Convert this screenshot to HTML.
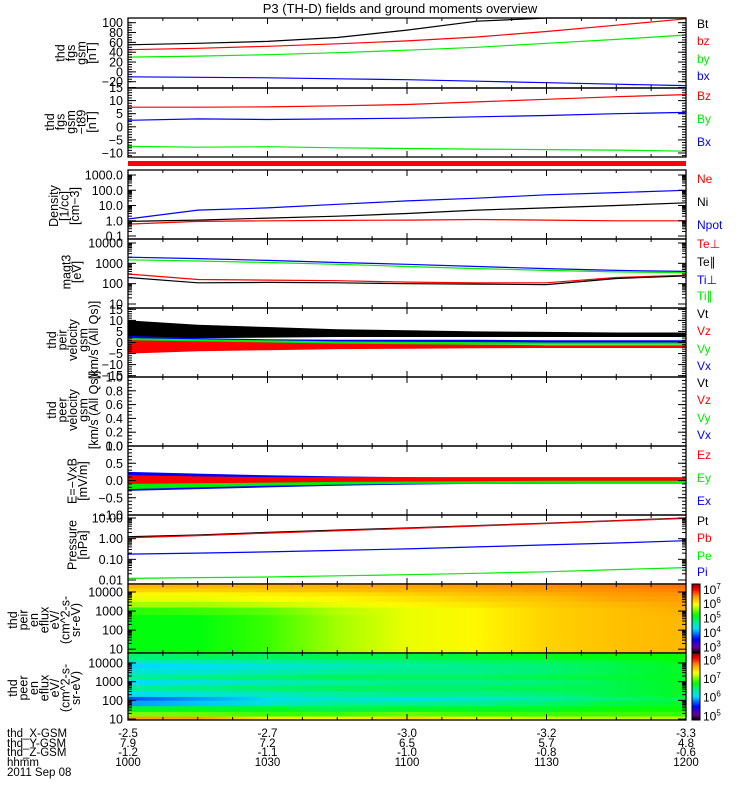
<!DOCTYPE html>
<html><head><meta charset="utf-8"><style>
html,body{margin:0;padding:0;background:#fff}
svg{display:block;font-family:"Liberation Sans",sans-serif}
</style></head><body>
<svg id="chart" width="750" height="800" viewBox="0 0 750 800" xmlns="http://www.w3.org/2000/svg">
<text x="400" y="13" text-anchor="middle" font-size="13">P3 (TH-D) fields and ground moments overview</text>
<g id="g"></g>
<g font-size="11.5">
<text x="7" y="737">thd_X-GSM</text><text x="7" y="747">thd_Y-GSM</text><text x="7" y="756">thd_Z-GSM</text><text x="7" y="766">hhmm</text><text x="7" y="776">2011 Sep 08</text>
</g>
</svg>
<script>
// time nodes: 10:00 to 12:00 every 15 min
const times = [0,1,2,3,4,5,6,7,8];
const hhmm = ['1000','1030','1100','1130','1200'];
const xGsm = ['-2.5','-2.7','-3.0','-3.2','-3.3'];
const yGsm = ['7.9','7.2','6.5','5.7','4.8'];
const zGsm = ['-1.2','-1.1','-1.0','-0.8','-0.6'];
// panel 1 fgs gsm
const bt = [55,58,62,70,85,103,120,135,150];
const bzG = [45,48,52,57,63,71,82,95,108];
const byG = [30,32,35,39,44,50,58,66,75];
const bxG = [-10,-11,-12,-14,-16,-19,-22,-25,-28];
// panel 2 fgs - t89
const bz2 = [7.5,7.5,7.6,8,8.5,9.5,10.5,11.5,12.3];
const by2 = [2.5,3,2.8,3,3.3,3.8,4.3,5,5.5];
const bx2 = [-7.5,-7.8,-7.6,-8,-8.3,-8.5,-8.7,-8.9,-9.3];
// panel 3 density
const ne = [0.6,0.9,1.0,1.05,1.1,1.2,1.1,1.0,1.0];
const ni = [0.9,1.1,1.5,2,3,5,7,10,15];
const npot = [1.3,5,7,12,20,30,50,70,100];
// panel 4 temperature
const tiPerp = [2000,1700,1400,1100,900,700,550,450,400];
const tiPar = [1500,1300,1100,900,700,550,450,380,350];
const tePerp = [300,160,150,140,120,110,110,200,260];
const tePar = [200,110,115,110,100,95,90,180,240];
// panel 5 ion velocity envelopes
const vtHi = [10,8,7,6,5.5,5,4.8,4.5,4.5];
const vtLo = [2,2,2.2,2.5,2.5,2.5,2.5,2.5,2.5];
const vxHi = [3,2,1.5,1.2,1.2,1.2,1,1,1];
const vxLo = [-3,-2,-1.5,-1,-0.5,-0.3,-0.2,0,0];
const vyHi = [2,1.5,1,0.5,0.3,0.2,0,0,0];
const vyLo = [-4,-3,-2,-1.5,-1.2,-1,-1,-1,-1];
const vzHi = [1,0.5,0,-0.5,-0.8,-1,-1.2,-1.2,-1.2];
const vzLo = [-5,-4,-3.5,-3,-2.8,-2.6,-2.5,-2.5,-2.5];
// panel 7 E = -VxB envelopes
const exHi = [0.25,0.2,0.15,0.12,0.1,0.08,0.08,0.06,0.06];
const exLo = [-0.3,-0.25,-0.2,-0.15,-0.12,-0.1,-0.1,-0.08,-0.08];
const eyHi = [0.15,0.1,0.08,0.05,0.03,0.02,0.02,0.02,0.02];
const eyLo = [-0.25,-0.2,-0.15,-0.12,-0.1,-0.1,-0.1,-0.1,-0.1];
const ezHi = [0.15,0.12,0.1,0.1,0.1,0.1,0.1,0.1,0.1];
const ezLo = [-0.1,-0.08,-0.06,-0.04,-0.03,-0.02,-0.01,-0.01,-0.01];
// panel 8 pressure
const pt = [1.25,1.5,2,2.6,3.3,4.3,5.6,7.5,10];
const pb = [1.1,1.4,1.85,2.4,3.1,4.1,5.4,7.2,9.6];
const pi = [0.18,0.2,0.23,0.27,0.32,0.4,0.5,0.62,0.8];
const pe = [0.012,0.013,0.014,0.016,0.018,0.021,0.025,0.032,0.04];
// spectrograms: log10 energy bin edges and log10 eflux rows (bottom to top)
const ionEdges = [0.8,1.3,1.8,2.3,2.8,3.2,3.5,3.8,4.0,4.2,4.42];
const ionFlux = [
[5.2,5.2,5.4,5.7,5.9,6.0,6.2,6.3,6.35],
[5.2,5.2,5.4,5.7,5.9,6.0,6.2,6.3,6.35],
[5.2,5.2,5.4,5.7,5.9,6.0,6.2,6.3,6.35],
[5.2,5.2,5.4,5.7,5.9,6.0,6.2,6.3,6.35],
[5.35,5.4,5.5,5.75,5.9,6.0,6.2,6.3,6.4],
[5.7,5.7,5.8,5.9,6.0,6.1,6.25,6.35,6.45],
[5.9,5.9,5.95,6.0,6.1,6.2,6.3,6.45,6.5],
[6.0,6.0,6.05,6.1,6.2,6.3,6.4,6.5,6.55],
[6.2,6.2,6.25,6.3,6.35,6.4,6.5,6.55,6.6],
[6.35,6.35,6.35,6.4,6.45,6.5,6.55,6.6,6.65]];
const eleEdges = [0.95,1.15,1.4,1.7,2.0,2.2,2.5,2.8,3.1,3.4,3.7,4.0,4.2,4.53];
const eleFlux = [
[7.7,7.7,7.4,7.3,7.5,7.3,7.2,7.2,7.2],
[7.05,7.0,6.9,6.9,7.0,6.9,6.9,6.9,6.9],
[6.7,6.7,6.7,6.6,6.7,6.7,6.7,6.8,6.8],
[5.9,6.0,6.2,6.4,6.4,6.45,6.5,6.6,6.7],
[5.7,5.9,6.1,6.2,6.1,6.2,6.35,6.5,6.6],
[6.1,6.2,6.3,6.4,6.45,6.45,6.5,6.6,6.7],
[6.4,6.45,6.5,6.55,6.55,6.55,6.6,6.6,6.7],
[6.1,6.2,6.3,6.4,6.45,6.45,6.5,6.6,6.7],
[6.4,6.45,6.5,6.55,6.55,6.55,6.6,6.65,6.7],
[6.2,6.2,6.3,6.4,6.45,6.45,6.5,6.6,6.7],
[6.05,6.1,6.2,6.3,6.4,6.45,6.5,6.6,6.7],
[6.3,6.35,6.4,6.45,6.5,6.55,6.6,6.65,6.75],
[6.5,6.55,6.55,6.6,6.6,6.65,6.7,6.75,6.8]];

const NS='http://www.w3.org/2000/svg';
const G=document.getElementById('g');
const X0=128,X1=686;
function xs(t){return X0+t/8*(X1-X0);}
function el(tag,attrs,parent){const e=document.createElementNS(NS,tag);for(const k in attrs)e.setAttribute(k,attrs[k]);(parent||G).appendChild(e);return e;}
function linS(top,bot,vTop,vBot){return v=>top+(vTop-v)/(vTop-vBot)*(bot-top);}
function logS(top,bot,lTop,lBot){return v=>top+(lTop-Math.log10(v))/(lTop-lBot)*(bot-top);}
function clip(y,top,bot){return Math.max(top,Math.min(bot,y));}

function line(arr,ys,color,top,bot,name){
  const p=arr.map((v,i)=>xs(times[i]).toFixed(1)+','+clip(ys(v),top,bot).toFixed(1)).join(' ');
  const e=el('polyline',{points:p,fill:'none',stroke:color,'stroke-width':1.2});
  
  
}
function band(hi,lo,ys,color,name){
  const up=hi.map((v,i)=>xs(times[i]).toFixed(1)+','+ys(v).toFixed(1));
  const dn=lo.map((v,i)=>xs(times[i]).toFixed(1)+','+ys(v).toFixed(1)).reverse();
  const e=el('polygon',{points:up.concat(dn).join(' '),fill:color});
  
  
}
function frame(top,bot,name){
  const e=el('rect',{x:X0,y:top,width:X1-X0,height:bot-top,fill:'none',stroke:'#000','stroke-width':1.3});
  
  
  for(let k=0;k<=16;k++){const x=X0+k*(X1-X0)/16;const L=k%4==0?6:3;
    el('line',{x1:x,x2:x,y1:top,y2:top+L,stroke:'#000'});el('line',{x1:x,x2:x,y1:bot,y2:bot-L,stroke:'#000'});}
}
function yTicks(list,ys,minor){
  list.forEach(([v,lab])=>{const y=ys(v);
    el('line',{x1:X0,x2:X0+8,y1:y,y2:y,stroke:'#000'});el('line',{x1:X1,x2:X1-8,y1:y,y2:y,stroke:'#000'});
    const t=el('text',{x:123,y:y+4.5,'text-anchor':'end','font-size':12.5});t.textContent=lab;
    
    
  });
  (minor||[]).forEach(v=>{const y=ys(v);el('line',{x1:X0,x2:X0+4,y1:y,y2:y,stroke:'#000'});el('line',{x1:X1,x2:X1-4,y1:y,y2:y,stroke:'#000'});});
}
function logMinor(a,b){const r=[];for(let d=a;d<b;d++)for(let m=2;m<10;m++)r.push(m*Math.pow(10,d));return r;}
function linMinor(a,b,s){const r=[];for(let v=a;v<=b+1e-9;v+=s)r.push(v);return r;}
function ytitle(lines,cy,name,xEnd){
  const g=el('g',{});
  const n=lines.length;const xe=xEnd||96;
  lines.forEach((s,i)=>{const x=xe-(n-1-i)*10.5;const t=el('text',{x:x,y:cy,'text-anchor':'middle','font-size':12.5,transform:`rotate(-90 ${x} ${cy})`},g);t.textContent=s;});
}
function legend(items,x){
  items.forEach(([s,c,y])=>{const t=el('text',{x:x||697,y:y,'font-size':12,fill:c});t.textContent=s;
    
    });
}
const BK='#000',RD='#ff0000',GR='#00ee00',BL='#0000ff';

// Panel 1
{const top=18,bot=88,ys=linS(22.7,81.7,100,-20);
 line(bxG,ys,BL,top,bot,'bx-gsm-line');line(byG,ys,GR,top,bot,'by-gsm-line');line(bzG,ys,RD,top,bot,'bz-gsm-line');line(bt,ys,BK,top,bot,'bt-line');
 frame(top,bot,'fgs-gsm-panel');
 yTicks([[100,'100'],[80,'80'],[60,'60'],[40,'40'],[20,'20'],[0,'0'],[-20,'−20']],ys,linMinor(-20,100,5));
 ytitle(['thd','fgs','gsm','[nT]'],53,'fgs-gsm-axis-title');
 legend([['Bt',BK,28],['bz',RD,45],['by',GR,63],['bx',BL,80]]);}
// Panel 2
{const top=88,bot=157,ys=linS(87.5,153,15,-10);
 line(bx2,ys,GR,top,bot,'bx-t89-line');line(by2,ys,BL,top,bot,'by-t89-line');line(bz2,ys,RD,top,bot,'bz-t89-line');
 frame(top,bot,'fgs-t89-panel');
 yTicks([[15,'15'],[10,'10'],[5,'5'],[0,'0'],[-5,'−5'],[-10,'−10']],ys,linMinor(-11,15,1));
 ytitle(['thd','fgs','gsm','−t89','[nT]'],122,'fgs-t89-axis-title');
 legend([['Bz',RD,100],['By',GR,123],['Bx',BL,146]]);}
// red flag bar
{const e=el('rect',{x:X0,y:161,width:X1-X0,height:5,fill:'#ff0000'});}
// Panel 3
{const top=170,bot=239,ys=logS(175,236,3,-1);
 line(npot,ys,BL,top,bot,'npot-line');line(ni,ys,BK,top,bot,'ni-line');line(ne,ys,RD,top,bot,'ne-line');
 frame(top,bot,'density-panel');
 yTicks([[1000,'1000.0'],[100,'100.0'],[10,'10.0'],[1,'1.0'],[0.1,'0.1']],ys,logMinor(-1,3));
 ytitle(['Density','[1/cc]','[cm−3]'],206,'density-axis-title',79);
 legend([['Ne',RD,183],['Ni',BK,206],['Npot',BL,229]]);}
// Panel 4
{const top=239,bot=308,ys=logS(243,304,4,1);
 line(tiPar,ys,GR,top,bot,'ti-par-line');line(tiPerp,ys,BL,top,bot,'ti-perp-line');line(tePerp,ys,RD,top,bot,'te-perp-line');line(tePar,ys,BK,top,bot,'te-par-line');
 frame(top,bot,'temperature-panel');
 yTicks([[10000,'10000'],[1000,'1000'],[100,'100'],[10,'10']],ys,logMinor(1,4));
 ytitle(['magt3','[eV]'],272,'temperature-axis-title',81);
 legend([['Te⊥',RD,248],['Te∥',BK,266],['Ti⊥',BL,284],['Ti∥',GR,300]]);}
// Panel 5
{const top=308,bot=377,ys=linS(308,377,15.6,-15.6);
 band(vtHi,vtLo,ys,BK,'vt-ion-band');band(vxHi,vxLo,ys,BL,'vx-ion-band');band(vyHi,vyLo,ys,GR,'vy-ion-band');band(vzHi,vzLo,ys,RD,'vz-ion-band');
 frame(top,bot,'ion-velocity-panel');
 yTicks([[15,'15'],[10,'10'],[5,'5'],[0,'0'],[-5,'−5'],[-10,'−10'],[-15,'−15']],ys,linMinor(-15,15,1));
 ytitle(['thd','peir','velocity','gsm','[km/s (All Qs)]'],340,'ion-velocity-axis-title',98);
 legend([['Vt',BK,318],['Vz',RD,335],['Vy',GR,353],['Vx',BL,370]]);}
// Panel 6
{const top=377,bot=446,ys=linS(377,446,1,0);
 frame(top,bot,'electron-velocity-panel');
 yTicks([[1,'1.0'],[0.8,'0.8'],[0.6,'0.6'],[0.4,'0.4'],[0.2,'0.2'],[0,'0.0']],ys,linMinor(0,1,0.05));
 ytitle(['thd','peer','velocity','gsm','[km/s (All Qs)]'],410,'electron-velocity-axis-title',98);
 legend([['Vt',BK,387],['Vz',RD,404],['Vy',GR,422],['Vx',BL,439]]);}
// Panel 7
{const top=446,bot=515,ys=linS(446,515,1,-1);
 band(exHi,exLo,ys,BL,'ex-band');band(eyHi,eyLo,ys,GR,'ey-band');band(ezHi,ezLo,ys,RD,'ez-band');
 frame(top,bot,'efield-panel');
 yTicks([[1,'1.0'],[0.5,'0.5'],[0,'0.0'],[-0.5,'−0.5'],[-1,'−1.0']],ys,linMinor(-1,1,0.1));
 ytitle(['E=−VxB','[mV/m]'],481,'efield-axis-title',87);
 legend([['Ez',RD,459],['Ey',GR,482],['Ex',BL,505]]);}
// Panel 8
{const top=515,bot=584,ys=logS(518,580,1,-2);
 line(pe,ys,GR,top,bot,'pe-line');line(pi,ys,BL,top,bot,'pi-line');line(pt,ys,BK,top,bot,'pt-line');line(pb,ys,RD,top,bot,'pb-line');
 frame(top,bot,'pressure-panel');
 yTicks([[10,'10.00'],[1,'1.00'],[0.1,'0.10'],[0.01,'0.01']],ys,logMinor(-2,1));
 ytitle(['Pressure','[nPa]'],545,'pressure-axis-title',87);
 legend([['Pt',BK,525],['Pb',RD,542],['Pe',GR,560],['Pi',BL,576]]);}

// colormap
const stops=[[0,[0,0,0]],[0.08,[110,0,150]],[0.2,[0,0,255]],[0.35,[0,220,255]],[0.45,[0,240,150]],[0.55,[0,255,0]],[0.7,[255,255,0]],[0.82,[255,150,0]],[0.92,[255,0,0]],[1,[140,0,0]]];
function cmap(t){t=Math.max(0,Math.min(1,t));for(let i=1;i<stops.length;i++){if(t<=stops[i][0]){const a=stops[i-1],b=stops[i],f=(t-a[0])/(b[0]-a[0]);
  return 'rgb('+a[1].map((c,k)=>Math.round(c+(b[1][k]-c)*f)).join(',')+')';}}return 'rgb(140,0,0)';}
const defs=el('defs',{});let gid=0;
function spectro(edges,flux,top,bot,vmin,vmax,name){
  const lTop=edges[edges.length-1],lBot=edges[0];const ys=l=>top+(lTop-l)/(lTop-lBot)*(bot-top);
  const g=el('g',{});
  flux.forEach((row,r)=>{
    const y0=ys(edges[r+1]),y1=ys(edges[r]);
    for(let i=0;i<times.length-1;i++){
      const id='gr'+(gid++);const lg=el('linearGradient',{id:id},defs);
      el('stop',{offset:0,'stop-color':cmap((row[i]-vmin)/(vmax-vmin))},lg);
      el('stop',{offset:1,'stop-color':cmap((row[i+1]-vmin)/(vmax-vmin))},lg);
      el('rect',{x:xs(times[i])-0.3,y:y0-0.3,width:xs(times[i+1])-xs(times[i])+0.6,height:y1-y0+0.6,fill:`url(#${id})`},g);
    }
  });
  return l=>ys(Math.log10(l));
}
function colorbar(top,bot,vmin,vmax,labels,name){
  const g=el('g',{});
  const n=40;for(let i=0;i<n;i++){el('rect',{x:692,y:top+i*(bot-top)/n,width:8,height:(bot-top)/n+0.5,fill:cmap(1-(i+0.5)/n)},g);}
  el('rect',{x:692,y:top,width:8,height:bot-top,fill:'none',stroke:'#000'},g);
  labels.forEach(e=>{const y=top+(vmax-e)/(vmax-vmin)*(bot-top);
    const t=el('text',{x:703,y:y+4,'font-size':12},g);t.textContent='10';
    const s=el('tspan',{dy:-5,'font-size':8},t);s.textContent=String(e);});
}
{const ys=spectro(ionEdges,ionFlux,584,653,2.6,7.4,'ion-spectrogram');
 frame(584,653,'ion-spectrogram-panel');
 yTicks([[10000,'10000'],[1000,'1000'],[100,'100'],[10,'10']],ys,logMinor(1,4));
 ytitle(['thd','peir','en','eflux','eV/','(cm^2-s-','sr-eV)'],620,'ion-spectrogram-axis-title',80);
 colorbar(584,653,2.6,7.4,[7,6,5,4,3],'ion-colorbar');}
{const ys=spectro(eleEdges,eleFlux,653,720,4.8,8.4,'electron-spectrogram');
 frame(653,720,'electron-spectrogram-panel');
 yTicks([[10000,'10000'],[1000,'1000'],[100,'100'],[10,'10']],ys,logMinor(1,4));
 ytitle(['thd','peer','en','eflux','eV/','(cm^2-s-','sr-eV)'],688,'electron-spectrogram-axis-title',80);
 colorbar(653,720,4.8,8.4,[8,7,6,5],'electron-colorbar');}
// bottom tick labels
for(let k=0;k<5;k++){const x=X0+k*(X1-X0)/4;
  [[xGsm,737],[yGsm,747],[zGsm,756],[hhmm,766]].forEach(([arr,y])=>{
    const t=el('text',{x:x,y:y,'text-anchor':'middle','font-size':11.5});t.textContent=arr[k];
    
    });}
</script>
</body></html>
